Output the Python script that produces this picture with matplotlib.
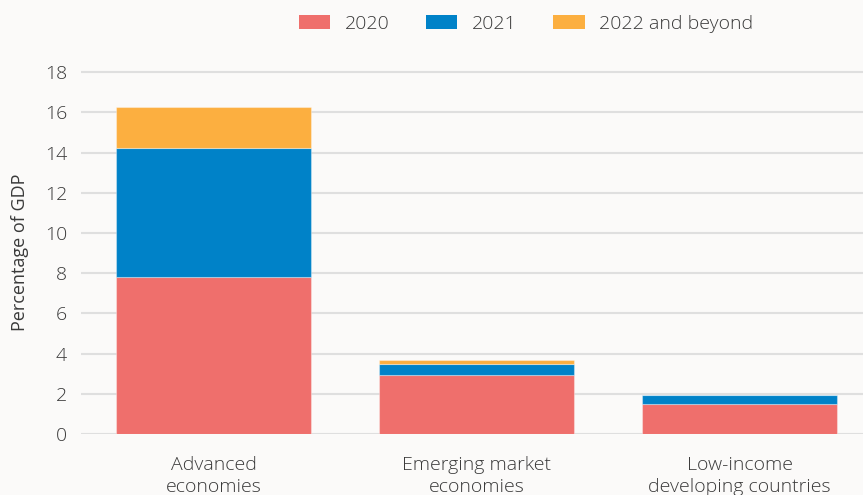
import matplotlib
matplotlib.use("Agg")
import matplotlib.pyplot as plt
from matplotlib.patches import Patch
import numpy as np

categories = ["Advanced\neconomies", "Emerging market\neconomies", "Low-income\ndeveloping countries"]
series_names = ["2020", "2021", "2022 and beyond"]
v2020 = [7.8, 2.92, 1.48]
v2021 = [6.45, 0.54, 0.44]
v2022 = [2.0, 0.23, 0.0]
yticks = [0, 2, 4, 6, 8, 10, 12, 14, 16, 18]
colors = ["#EF6F6C", "#0082C8", "#FCAF40"]

plt.rcParams['font.family'] = ['Open Sans', 'DejaVu Sans']
plt.rcParams['font.weight'] = 'light'
txt = "#3a3a3a"
bg = "#FBFAF9"

fig = plt.figure(figsize=(8.63, 4.95), dpi=100, facecolor=bg)
ax = fig.add_axes([81/863, 61/495, 1 - 81/863, 0.8582 - 61/495])
ax.set_facecolor(bg)

x = np.arange(len(categories))
w = 0.74
bottom = np.zeros(len(categories))
for vals, c in zip([v2020, v2021, v2022], colors):
    ax.bar(x, vals, w, bottom=bottom, color=c, edgecolor=(1, 1, 1, 0.35), linewidth=0.8, zorder=3)
    bottom += np.array(vals)

ax.set_xlim(-0.505, 2.469)
ax.set_ylim(0, 18.1)
ax.set_yticks(yticks)
ax.set_yticklabels([str(t) for t in yticks])
ax.set_xticks(x)
ax.set_xticklabels(categories, linespacing=1.3)
ax.grid(axis='y', color='#dfdfdf', linewidth=1.5, zorder=0)
ax.grid(axis='x', visible=False)
for s in ax.spines.values():
    s.set_visible(False)
ax.tick_params(axis='both', length=0, labelsize=14, labelcolor=txt)
ax.tick_params(axis='y', pad=10)
ax.tick_params(axis='x', pad=16)
ax.set_ylabel("Percentage of GDP", fontsize=13, color=txt)
ax.yaxis.set_label_coords(-(81 - 29) / (863 - 81), 0.5)

handles = [Patch(facecolor=c, edgecolor='none') for c in colors]
fig.legend(handles, series_names, loc='center', bbox_to_anchor=(526/863, 1 - 24/495), ncol=3,
           frameon=False, fontsize=14, labelcolor=txt, handlelength=1.6, handleheight=0.7,
           handletextpad=0.75, columnspacing=1.9)

fig.savefig("out.png", dpi=100, facecolor=bg)
